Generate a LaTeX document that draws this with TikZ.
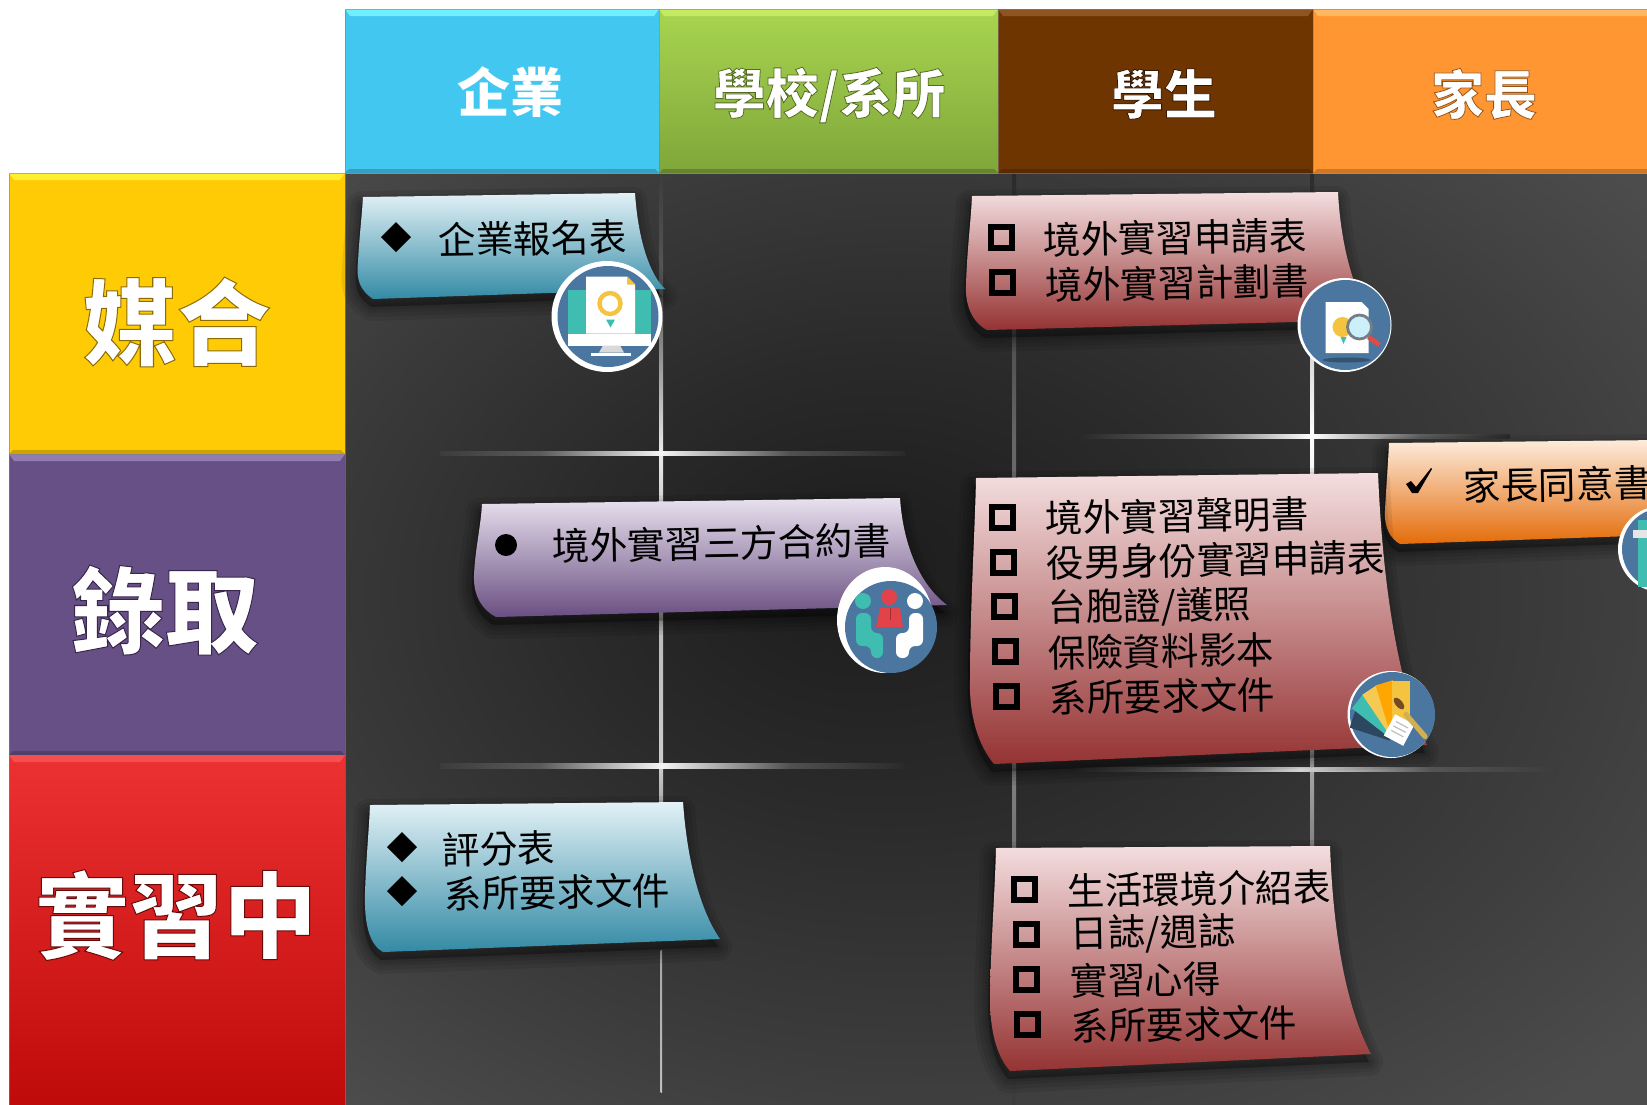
\documentclass[tikz,border=0pt]{standalone}
\usepackage{fontspec}
\newfontfamily\cjk{Noto Sans CJK TC}
\usetikzlibrary{calc}
\definecolor{bgA}{HTML}{1C1C1C}
\definecolor{bgB}{HTML}{2A2A2A}
\definecolor{bgC}{HTML}{3C3C3C}
\definecolor{bgD}{HTML}{4C4C4C}
\definecolor{iconblue}{HTML}{4A76A0}
\definecolor{iconteal}{HTML}{3EBDB0}
\definecolor{iconyel}{HTML}{F4C33F}
\definecolor{iconred}{HTML}{E2434B}
\definecolor{hdrblue}{HTML}{42C8F0}\definecolor{hdrbluet}{HTML}{70F0FF}
\definecolor{hdrgrnt}{HTML}{A8D550}\definecolor{hdrgrnb}{HTML}{7FA63A}\definecolor{hdrgrnl}{HTML}{C4EA60}
\definecolor{hdrbrn}{HTML}{6F3500}\definecolor{hdrbrnl}{HTML}{8F5520}
\definecolor{hdrora}{HTML}{FF9632}\definecolor{hdroral}{HTML}{FFB860}
\definecolor{rowyel}{HTML}{FFCB05}\definecolor{rowyell}{HTML}{FFEF30}
\definecolor{rowpur}{HTML}{675086}\definecolor{rowpurl}{HTML}{927CB0}
\definecolor{rowredt}{HTML}{EC3131}\definecolor{rowredb}{HTML}{BF0A0A}\definecolor{rowredl}{HTML}{F45050}
\pgfdeclareradialshading{panelbg}{\pgfpoint{-5.6bp}{4bp}}{color(0bp)=(bgA); color(12bp)=(bgB); color(25bp)=(bgC); color(35bp)=(bgD); color(50bp)=(bgD)}
\tikzset{
  notetext/.style={anchor=west,inner sep=0pt,rotate=1,xshift=-1pt,yshift=-1.5pt,text=black,font=\cjk\fontsize{18.8}{18.8}\selectfont},
  headtext/.style={inner sep=0pt,text=white,font=\cjk\bfseries\fontsize{26.5}{26.5}\selectfont},
  rowtext/.style={inner sep=0pt,text=white,font=\cjk\bfseries\fontsize{47}{47}\selectfont},
  sqbullet/.style={draw=black,line width=3pt},
  blackmark/.style={fill=black,draw=none},
  notebluest/.style={top color=bluetop,middle color=bluemid,bottom color=bluebot},
  notepinkst/.style={top color=pinktop,middle color=pinkmid,bottom color=pinkbot},
  notepurpst/.style={top color=purptop,middle color=purpmid,bottom color=purpbot},
  noteorast/.style={top color=oratop,middle color=oramid,bottom color=orabot},
}
\definecolor{bluetop}{HTML}{E2F1F6}\definecolor{bluemid}{HTML}{92C6D6}\definecolor{bluebot}{HTML}{338AA5}
\definecolor{pinktop}{HTML}{F4DEDF}\definecolor{pinkmid}{HTML}{E3B6B6}\definecolor{pinkbot}{HTML}{953333}
\definecolor{purptop}{HTML}{E8E1EE}\definecolor{purpmid}{HTML}{AB9ABD}\definecolor{purpbot}{HTML}{6A4F82}
\definecolor{oratop}{HTML}{FDEBDC}\definecolor{oramid}{HTML}{F2AA6A}\definecolor{orabot}{HTML}{E46C0A}
% bevelled box: x1 y1 x2 y2 topcolour bottomcolour bevel-top bevel-bottom
\newcommand{\bevelbox}[8]{%
  \shade[top color=#5,bottom color=#6] (#1,#2) rectangle (#3,#4);
  \fill[#7] (#1,#2) -- (#3,#2) -- (#3-5,#2+7) -- (#1+5,#2+7) -- cycle;
  \fill[#8] (#1,#4) -- (#3,#4) -- (#3-4,#4-4) -- (#1+4,#4-4) -- cycle;
  \draw[gray,opacity=.55,line width=.4pt] (#1,#2) rectangle (#3,#4);
}
% vertical / horizontal light segments
\newcommand{\vseg}[6]{\shade[top color=#5,bottom color=#6] (#1,#3) rectangle (#2,#4);}
\newcommand{\hseg}[6]{\shade[left color=#5,right color=#6] (#1,#3) rectangle (#2,#4);}
% soft shadow
\newcommand{\softshadow}[1]{%
  \foreach \w in {14,10,6,3}{\draw[black,opacity=.08,fill=black,line join=round,line width=\w pt,shift={(-2,8)}] #1;}%
}
% white label whose glyphs carry a dark edge: stroke width, stroke rgb, text
\newcommand{\edged}[3]{\special{pdf:code q 2 Tr #1 w #2 RG}#3\special{pdf:code Q}}
\newcommand{\sqb}[2]{\draw[sqbullet,shift={(#1,#2)}] (-10.5,-10.5) rectangle (10.5,10.5);}
\newcommand{\dia}[2]{\fill[blackmark,shift={(#1,#2)}] (-15,0) -- (0,-15) -- (15,0) -- (0,15) -- cycle;}
\begin{document}
\begin{tikzpicture}[x=.5pt,y=-.5pt]
\useasboundingbox (0,0) rectangle (1647,1104);
\clip (0,0) rectangle (1647,1104);
\fill[white] (0,0) rectangle (1647,1104);
% panel
\shade[shading=panelbg] (345,173) rectangle (1647,1104);
% vertical light lines
\vseg{659.5}{663}{173}{300}{bgC}{gray!50!bgC}
\vseg{659.5}{663}{300}{453}{gray!50!bgC}{white!92!black}
\vseg{659.5}{663}{453}{560}{white!92!black}{gray!60}
\vseg{659.5}{663}{560}{765}{gray!60}{white!80!black}
\vseg{659.5}{663}{765}{810}{white!80!black}{gray!70}
\vseg{660.5}{662}{950}{1092}{gray!70!white}{white!75!black}
\vseg{1012}{1016}{173}{440}{bgB}{gray!80!black}
\vseg{1012}{1016}{440}{770}{gray!80!black}{gray}
\vseg{1012}{1016}{770}{855}{gray}{gray!90!black}
\vseg{1012}{1016}{1065}{1104}{bgC}{bgC}
\vseg{1310}{1314}{173}{300}{bgB}{gray!60!bgB}
\vseg{1310}{1314}{300}{436}{white!75!black}{white}
\vseg{1310}{1314}{436}{770}{white}{gray!70!white}
\vseg{1310}{1314}{770}{850}{gray!70!white}{gray}
% horizontal light lines
\hseg{440}{540}{451}{455}{bgC}{gray!45!bgC}
\hseg{540}{661}{451}{455}{gray!45!bgC}{white!96!black}
\hseg{661}{790}{451}{455}{white!96!black}{gray!45!bgB}
\hseg{790}{905}{451}{455}{gray!45!bgB}{bgB}
\hseg{440}{540}{763}{768}{bgC}{gray!45!bgC}
\hseg{540}{661}{763}{768}{gray!45!bgC}{white!96!black}
\hseg{661}{790}{763}{768}{white!96!black}{gray!45!bgB}
\hseg{790}{905}{763}{768}{gray!45!bgB}{bgB}
\hseg{1080}{1190}{434}{438}{bgB}{gray!60!bgB}
\hseg{1190}{1312}{434}{438}{gray!60!bgB}{white}
\hseg{1312}{1420}{434}{438}{white}{gray!60!bgB}
\hseg{1420}{1510}{434}{438}{gray!60!bgB}{bgB}
\hseg{1071}{1180}{767}{771}{bgB}{gray!60!bgB}
\hseg{1180}{1300}{767}{771}{gray!60!bgB}{white!90!black}
\hseg{1300}{1430}{767}{771}{white!90!black}{gray!50!bgB}
\hseg{1430}{1557}{767}{771}{gray!50!bgB}{bgC}
% header
\bevelbox{345}{9}{659}{173}{hdrblue}{hdrblue}{hdrbluet}{hdrblue!80!black}
\bevelbox{659}{9}{998}{173}{hdrgrnt}{hdrgrnb}{hdrgrnl}{hdrgrnb!80!black}
\bevelbox{998}{9}{1313}{173}{hdrbrn}{hdrbrn}{hdrbrnl}{hdrbrn!80!black}
\bevelbox{1313}{9}{1660}{173}{hdrora}{hdrora}{hdroral}{hdrora!80!black}
% rows
\bevelbox{9}{173}{345}{454}{rowyel}{rowyel}{rowyell}{rowyel!80!black}
\bevelbox{9}{454}{345}{755}{rowpur}{rowpur}{rowpurl}{rowpur!80!black}
\bevelbox{9}{755}{345}{1110}{rowredt}{rowredb}{rowredl}{rowredb}
% header + row text
\node[headtext] (hA) at (510,92) {企業};
\node[headtext] (hB) at (829,95) {\edged{.4}{.33 .42 .13}{學校/系所}};
\node[headtext] (hC) at (1164,94) {\edged{.4}{.2 .09 0}{學生}};
\node[headtext] (hD) at (1484,94) {\edged{.4}{.6 .33 .08}{家長}};
\node[rowtext] (rA) at (177,322) {\edged{.5}{.55 .42 .02}{媒合}};
\node[rowtext] (rB) at (165,610) {\edged{.5}{.22 .15 .3}{錄取}};
\node[rowtext] (rC) at (176,915) {\edged{.5}{.42 .03 .03}{實習中}};
% notes
\def\noteA{(363,197) -- (635,193) .. controls (638,240) and (650,275) .. (665,289) -- (373,299) .. controls (360,290) and (356,280) .. (358,262) .. controls (359,240) and (362,215) .. (363,197) -- cycle}
\def\noteB{(972,196) -- (1338,192) .. controls (1340,235) and (1350,285) .. (1372,320) -- (987,330) .. controls (972,322) and (965,305) .. (966,285) .. controls (967,250) and (971,220) .. (972,196) -- cycle}
\def\noteC{(482,504) -- (900,498) .. controls (903,545) and (920,585) .. (947,605) -- (496,617) .. controls (482,610) and (473,595) .. (474,575) .. controls (475,550) and (481,525) .. (482,504) -- cycle}
\def\noteD{(976,478) -- (1378,473) .. controls (1382,570) and (1395,680) .. (1427,745) -- (994,764) .. controls (978,745) and (969,715) .. (970,680) .. controls (970,610) and (975,530) .. (976,478) -- cycle}
\def\noteE{(1389,443) -- (1660,440) -- (1660,535) -- (1400,544) .. controls (1390,538) and (1384,528) .. (1385,510) .. controls (1386,490) and (1388,465) .. (1389,443) -- cycle}
\def\noteF{(370,805) -- (683,802) .. controls (687,860) and (700,910) .. (720,939) -- (383,952) .. controls (370,945) and (364,925) .. (365,893) .. controls (366,860) and (369,830) .. (370,805) -- cycle}
\def\noteG{(996,848) -- (1330,846) .. controls (1333,930) and (1345,1005) .. (1371,1054) -- (1010,1071) .. controls (996,1055) and (990,1030) .. (990,997) .. controls (991,940) and (995,890) .. (996,848) -- cycle}
\softshadow{\noteA}
\shade[notebluest] \noteA;
\softshadow{\noteB}
\shade[notepinkst] \noteB;
\softshadow{\noteC}
\shade[notepurpst] \noteC;
\softshadow{\noteE}
\shade[noteorast] \noteE;
\softshadow{\noteD}
\shade[notepinkst] \noteD;
\softshadow{\noteF}
\shade[notebluest] \noteF;
\softshadow{\noteG}
\shade[notepinkst] \noteG;
% note A
\dia{396}{237}
\node[notetext] (tA) at (440,237) {企業報名表};
% note B
\sqb{1001}{237}\sqb{1002}{282}
\node[notetext] (tB1) at (1045,237) {境外實習申請表};
\node[notetext] (tB2) at (1047,282) {境外實習計劃書};
% note C
\fill[blackmark] (506,545) circle[radius=11];
\node[notetext] (tC) at (554,543) {境外實習三方合約書};
% note D
\sqb{1002}{517}\sqb{1003}{562}\sqb{1004}{606}\sqb{1005}{651}\sqb{1006}{696}
\node[notetext] (tD1) at (1047,515) {境外實習聲明書};
\node[notetext] (tD2) at (1048,560) {役男身份實習申請表};
\node[notetext] (tD3) at (1050,606) {台胞證/護照};
\node[notetext] (tD4) at (1050,650) {保險資料影本};
\node[notetext] (tD5) at (1051,695) {系所要求文件};
% note E
\fill[blackmark] (1406,484) -- (1411,481) -- (1416,487) -- (1431,468) -- (1432,469) -- (1418,493) -- (1412,493) -- cycle;
\node[notetext] (tE) at (1465,483) {家長同意書};
% note F
\dia{402}{847}\dia{402}{891}
\node[notetext] (tF1) at (444,847) {評分表};
\node[notetext] (tF2) at (446,891) {系所要求文件};
% note G
\sqb{1024}{889}\sqb{1026}{934}\sqb{1026}{979}\sqb{1027}{1024}
\node[notetext] (tG1) at (1069,888) {生活環境介紹表};
\node[notetext] (tG2) at (1072,932) {日誌/週誌};
\node[notetext] (tG3) at (1072,978) {實習心得};
\node[notetext] (tG4) at (1073,1023) {系所要求文件};
% icon 1: monitor
\begin{scope}[shift={(607,316.5)}]
  \fill[white] (0,0) circle[radius=55.5];
  \fill[iconblue] (1,0) circle[radius=50.5];
  \fill[iconteal] (-39,-27) rectangle (44,17);
  \fill[white] (-39,17) rectangle (44,29);
  \fill[white] (-21,-40) -- (20,-40) -- (28,-32) -- (28,17) -- (-21,17) -- cycle;
  \fill[iconyel] (20,-40) -- (28,-32) -- (20,-32) -- cycle;
  \fill[gray!30] (-4,29) -- (13,29) -- (17,36) -- (-8,36) -- cycle;
  \fill[white] (-16,36) rectangle (24,39);
  \draw[iconyel,line width=2.2pt] (3,-13) circle[radius=10.5];
  \fill[iconteal] (-1,3) -- (8,3) -- (3.5,11) -- cycle;
\end{scope}
% icon 2: magnifier
\begin{scope}[shift={(1344.5,325)}]
  \fill[white] (0,0) circle[radius=47];
  \fill[iconblue] (1,0) circle[radius=45];
  \fill[iconblue!70!black] (2,35) ellipse[x radius=24,y radius=2.5];
  \fill[white] (-19,-23) -- (17,-23) -- (24,-16) -- (24,28) -- (-19,28) -- cycle;
  \fill[iconyel] (-2,2) circle[radius=10];
  \fill[iconteal] (-4,12) -- (2,12) -- (-1,19) -- cycle;
  \fill[cyan!20!white] (15,2) circle[radius=11];
  \draw[gray!80!iconblue,line width=1.4pt] (15,2) circle[radius=12];
  \draw[iconred!90!orange,line width=2.4pt] (24,12) -- (35,20);
\end{scope}
% icon 3: meeting
\begin{scope}[shift={(888,622)}]
  \fill[white] (-3,-2) ellipse[x radius=48,y radius=53];
  \fill[iconblue] (3,5) circle[radius=46];
  \fill[iconteal] (-25,-21) circle[radius=8];
  \fill[iconteal,rounded corners=3pt] (-32,-9) -- (-17,-9) -- (-17,11) -- (-5,11) -- (-5,36) -- (-17,36) -- (-17,24) -- (-32,24) -- cycle;
  \fill[white] (27,-21) circle[radius=8];
  \fill[white,rounded corners=3pt] (35,-9) -- (21,-9) -- (21,11) -- (8,11) -- (8,36) -- (21,36) -- (21,24) -- (35,24) -- cycle;
  \fill[iconred] (1,-25) circle[radius=8];
  \fill[iconred] (-8,-14) -- (12,-14) -- (15,5) -- (-12,5) -- cycle;
  \draw[iconred!70!black,line width=.4pt] (2,-14) -- (2,-2);
\end{scope}
% icon 4: palette fan
\begin{scope}[shift={(1392,714.5)}]
  \fill[white] (-1,0) circle[radius=43.5];
  \fill[iconblue] (0.5,0) circle[radius=42.5];
  \begin{scope}[shift={(8,20)}]
    \fill[iconblue!60!black,rotate=72] (-9,-50) rectangle (9,-8);
    \fill[iconteal,rotate=52] (-9,-54) rectangle (9,-8);
    \fill[iconyel!90!white,rotate=34] (-9,-54) rectangle (9,-8);
    \fill[orange!70!yellow,rotate=17] (-9,-54) rectangle (9,-8);
    \fill[iconyel,rotate=0] (-8,-54) rectangle (10,-8);
  \end{scope}
  \fill[white,rotate around={-28:(8,16)}] (-4,4) rectangle (18,28);
  \draw[gray!50,line width=.6pt,rotate around={-28:(8,16)}] (0,10) -- (14,10) (0,15) -- (14,15) (0,20) -- (14,20);
  \draw[iconyel!70!gray,line width=2.6pt,line cap=round] (14,0) -- (33,22);
  \fill[brown!60!black,rotate around={40:(7,-11)}] (7,-11) ellipse[x radius=3.5,y radius=7];
\end{scope}
% icon 5: partly visible
\begin{scope}[shift={(1661,549)}]
  \fill[white] (0,0) circle[radius=43];
  \fill[iconblue] (2,0) circle[radius=41];
  \fill[iconteal] (-23,-29) rectangle (0,38);
  \fill[white!90!black] (-28,-19) rectangle (0,-11);
\end{scope}
\end{tikzpicture}
\end{document}
